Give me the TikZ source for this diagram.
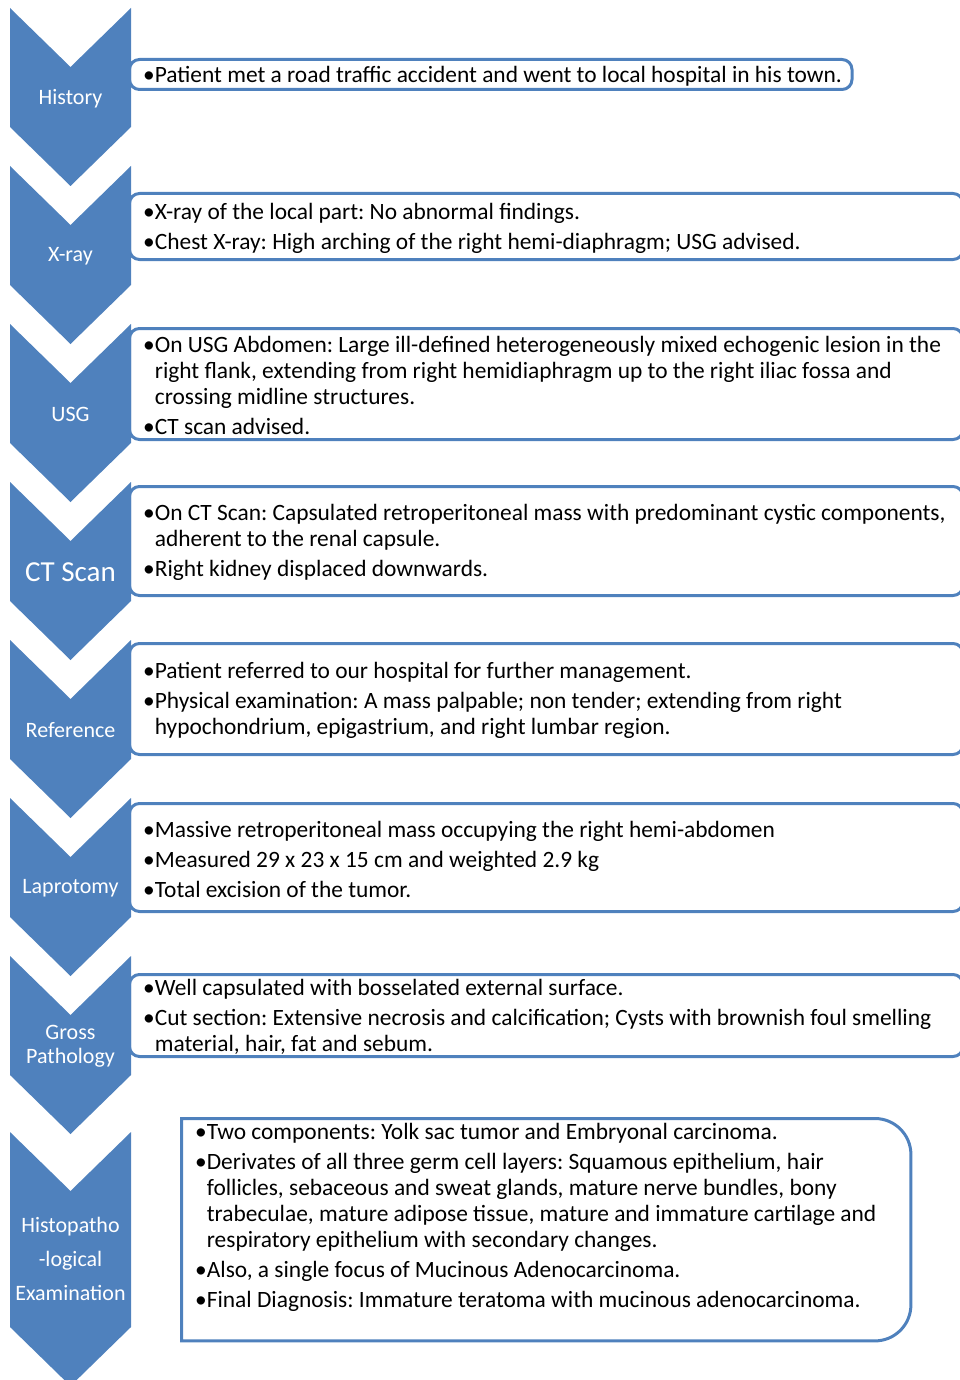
\documentclass[tikz,border=0pt]{standalone}
\usepackage{fontspec}
\setmainfont{Carlito}
\usetikzlibrary{positioning}
\definecolor{smartblue}{HTML}{4F81BD}
\newcommand{\ind}{\phantom{\textbullet}}
\frenchspacing

\begin{document}
\begin{tikzpicture}[x=1pt, y=-1pt, node distance=158pt,
  chev/.style={fill=smartblue},
  lbl/.style={text=white, inner sep=0pt, align=center, font=\fontsize{22}{24}\selectfont},
  infobox/.style={rectangle, draw=smartblue, line width=3pt, rounded corners=10pt, anchor=west, minimum width=833.5pt},
  info/.style={inner sep=0pt, align=left, yshift=-1.5pt, font=\fontsize{23.4}{26}\selectfont}]
\useasboundingbox (0,0) rectangle (959,1380);

% text boxes
\node [infobox, minimum width=722.5pt, minimum height=30pt] (history_box) at (128,74.5) {};
\node [infobox, minimum height=66pt] (xray_box) at (128,226.5) {};
\node [infobox, minimum height=111pt] (usg_box) at (128,384) {};
\node [infobox, minimum height=109pt] (ct_box) at (128,541) {};
\node [infobox, minimum height=111pt] (ref_box) at (128,699) {};
\node [infobox, minimum height=108pt] (lap_box) at (128,857.5) {};
\node [infobox, minimum height=82pt] (gross_box) at (128,1015.5) {};
\node [minimum width=729pt, minimum height=222pt, anchor=north west, inner sep=0pt] (histo_box) at (181.5,1118.5) {};
\draw [smartblue, line width=3pt] (histo_box.north west) -- ([xshift=-36pt]histo_box.north east) arc [start angle=90, end angle=0, radius=36pt] -- ([yshift=36pt]histo_box.south east) arc [start angle=0, end angle=-90, radius=36pt] -- (histo_box.south west) -- cycle;

% chevrons
\foreach \top in {8,166,...,956}
  \fill [chev] (10,\top) -- ++(60.5,59) -- ++(60.5,-59) -- ++(0,119) -- ++(-60.5,59) -- ++(-60.5,-59) -- cycle;
\fill [chev] (10,1132) -- ++(60.5,59) -- ++(60.5,-59) -- ++(0,195) -- ++(-60.5,59) -- ++(-60.5,-59) -- cycle;

% chevron labels
\node [lbl] (history_lbl) at (70.5,98.5) {History};
\node [lbl, below of=history_lbl] (xray_lbl) {X-ray};
\node [lbl, below of=xray_lbl] (usg_lbl) {USG};
\node [lbl, below of=usg_lbl, font=\fontsize{29}{30}\selectfont] (ct_lbl) {CT Scan};
\node [lbl, below of=ct_lbl] (ref_lbl) {Reference};
\node [lbl, below of=ref_lbl] (lap_lbl) {Laprotomy};
\node [lbl, below of=lap_lbl] (gross_lbl) {Gross\\Pathology};
\node [lbl, below of=gross_lbl, node distance=212pt, font=\fontsize{22}{34}\selectfont] (histo_lbl) {Histopatho\\-logical\\Examination};

% box texts
\node [info, right=15pt of history_box.west] (history_txt) {\textbullet Patient met a road traffic accident and went to local hospital in his town.};
\node [info, right=15pt of xray_box.west] (xray_txt) {\textbullet X-ray of the local part: No abnormal findings.\\[4pt]
  \textbullet Chest X-ray: High arching of the right hemi-diaphragm; USG advised.};
\node [info, right=15pt of usg_box.west] (usg_txt) {\textbullet On USG Abdomen: Large ill-defined heterogeneously mixed echogenic lesion in the\\
  \ind right flank, extending from right hemidiaphragm up to the right iliac fossa and\\
  \ind crossing midline structures.\\[4pt]
  \textbullet CT scan advised.};
\node [info, right=15pt of ct_box.west] (ct_txt) {\textbullet On CT Scan: Capsulated retroperitoneal mass with predominant cystic components,\\
  \ind adherent to the renal capsule.\\[4pt]
  \textbullet Right kidney displaced downwards.};
\node [info, right=15pt of ref_box.west] (ref_txt) {\textbullet Patient referred to our hospital for further management.\\[4pt]
  \textbullet Physical examination: A mass palpable; non tender; extending from right\\
  \ind hypochondrium, epigastrium, and right lumbar region.};
\node [info, right=15pt of lap_box.west] (lap_txt) {\textbullet Massive retroperitoneal mass occupying the right hemi-abdomen\\[4pt]
  \textbullet Measured 29 x 23 x 15 cm and weighted 2.9 kg\\[4pt]
  \textbullet Total excision of the tumor.};
\node [info, right=15pt of gross_box.west] (gross_txt) {\textbullet Well capsulated with bosselated external surface.\\[4pt]
  \textbullet Cut section: Extensive necrosis and calcification; Cysts with brownish foul smelling\\
  \ind material, hair, fat and sebum.};
\node [info, below right=5pt and 13.5pt of histo_box.north west, yshift=1.5pt] (histo_txt) {\textbullet Two components: Yolk sac tumor and Embryonal carcinoma.\\[4pt]
  \textbullet Derivates of all three germ cell layers: Squamous epithelium, hair\\
  \ind follicles, sebaceous and sweat glands, mature nerve bundles, bony\\
  \ind trabeculae, mature adipose tissue, mature and immature cartilage and\\
  \ind respiratory epithelium with secondary changes.\\[4pt]
  \textbullet Also, a single focus of Mucinous Adenocarcinoma.\\[4pt]
  \textbullet Final Diagnosis: Immature teratoma with mucinous adenocarcinoma.};
\end{tikzpicture}
\end{document}
